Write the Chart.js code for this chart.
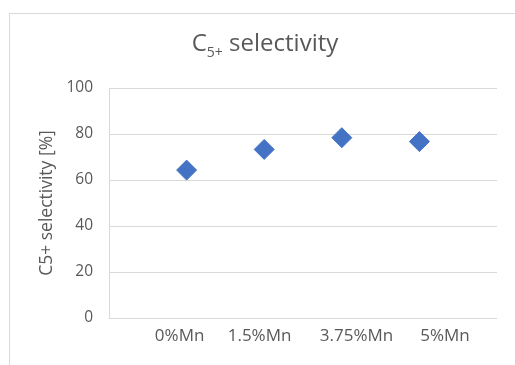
<!DOCTYPE html>
<html>
<head>
<meta charset="utf-8">
<script src="https://cdn.jsdelivr.net/npm/chart.js@4.4.1/dist/chart.umd.min.js"></script>
<style>
    html, body { margin: 0; padding: 0; background: #fff; }
    #wrap { position: relative; width: 515px; height: 365px; overflow: hidden; }
    #frame { position: absolute; left: 9px; top: 13px; width: 600px; height: 500px; border: 1px solid #d9d9d9; }
    canvas { position: absolute; left: 0; top: 0; }
</style>
</head>
<body>
<div id="wrap">
    <div id="frame"></div>
    <canvas id="chart" width="515" height="365"></canvas>
</div>
<script>
// Data
const categories = ['0%Mn', '1.5%Mn', '3.75%Mn', '5%Mn'];
const xValues = [1, 2, 3, 4];
const selectivity = [64.3, 73.3, 78.4, 76.7];
const yTicks = [0, 20, 40, 60, 80, 100];

// where the category labels sit along the x axis (they are not under the points)
const labelAnchors = [0.91, 1.94, 3.19, 4.33];

const textColor = '#595959';
const gridColor = '#d9d9d9';
const font = '"Open Sans", sans-serif';

// Title with subscript "5+"
const titlePlugin = {
    id: 'subTitle',
    afterDraw(chart) {
        const ctx = chart.ctx;
        const big = '24px ' + font;
        const small = '14px ' + font;
        ctx.save();
        ctx.fillStyle = textColor;
        ctx.textBaseline = 'alphabetic';
        ctx.textAlign = 'left';
        ctx.font = big;
        const wC = ctx.measureText('C').width;
        const wRest = ctx.measureText(' selectivity').width;
        ctx.font = small;
        const wSub = ctx.measureText('5+').width;
        const total = wC + wSub + wRest;
        let x = 265 - total / 2;
        const base = 51;
        ctx.font = big;
        ctx.fillText('C', x, base);
        x += wC;
        ctx.font = small;
        ctx.fillText('5+', x, base + 5.5);
        x += wSub;
        ctx.font = big;
        ctx.fillText(' selectivity', x, base);
        ctx.restore();
    }
};

new Chart(document.getElementById('chart'), {
    type: 'scatter',
    data: {
        datasets: [{
            label: 'C5+ selectivity',
            data: xValues.map((x, i) => ({ x: x, y: selectivity[i] })),
            pointStyle: 'rectRot',
            pointRadius: 10,
            pointHoverRadius: 10,
            backgroundColor: '#4472C4',
            borderColor: '#4472C4',
            borderWidth: 1
        }]
    },
    options: {
        responsive: false,
        animation: false,
        layout: { padding: { left: 10, right: 18, top: 88, bottom: 10 } },
        plugins: {
            legend: { display: false },
            tooltip: { enabled: false },
            title: { display: false }
        },
        scales: {
            x: {
                type: 'linear',
                min: 0,
                max: 5,
                afterBuildTicks: scale => { scale.ticks = labelAnchors.map(v => ({ value: v })); },
                afterFit: scale => { scale.height = 37; },
                grid: { display: false, drawTicks: false },
                border: { display: false },
                ticks: {
                    padding: 8,
                    color: textColor,
                    font: { family: font, size: 17 },
                    callback: (v, i) => categories[i]
                }
            },
            y: {
                min: 0,
                max: 100,
                afterBuildTicks: scale => { scale.ticks = yTicks.map(v => ({ value: v })); },
                afterFit: scale => { scale.width = 99; },
                grid: { color: gridColor, lineWidth: 1, drawTicks: false },
                border: { display: true, color: gridColor, width: 1 },
                ticks: {
                    padding: 16,
                    color: textColor,
                    font: { family: font, size: 15.5 }
                },
                title: {
                    display: true,
                    text: 'C5+ selectivity [%]',
                    color: textColor,
                    font: { family: font, size: 17.5 },
                    padding: { top: 27, bottom: 0 }
                }
            }
        }
    },
    plugins: [titlePlugin]
});
</script>
</body>
</html>
